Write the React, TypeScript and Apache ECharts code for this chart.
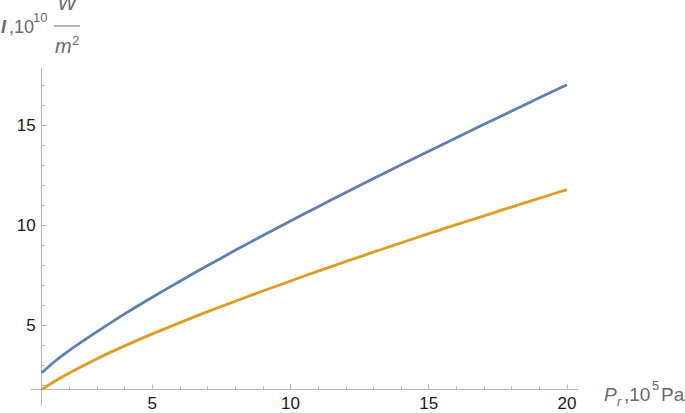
import React, { useEffect, useRef } from "react";
import * as echarts from "echarts";

const pressure = [1, 1.5, 2, 3, 4, 5, 6, 7, 8, 9, 10, 11, 12, 13, 14, 15, 16, 17, 18, 19, 20];
const intensityBlue = [2.64, 3.24, 3.76, 4.69, 5.58, 6.41, 7.21, 7.99, 8.75, 9.49, 10.21, 10.93, 11.63, 12.33, 13.02, 13.7, 14.37, 15.04, 15.7, 16.36, 17.01];
const intensityOrange = [1.8, 2.24, 2.63, 3.34, 3.98, 4.58, 5.14, 5.69, 6.21, 6.72, 7.22, 7.71, 8.19, 8.66, 9.12, 9.58, 10.03, 10.47, 10.91, 11.35, 11.78];
const xMajorTicks = [5, 10, 15, 20];
const xMinorTicks = [2, 3, 4, 6, 7, 8, 9, 11, 12, 13, 14, 16, 17, 18, 19];
const yMajorTicks = [5, 10, 15];
const yMinorTicks = [2, 3, 4, 6, 7, 8, 9, 11, 12, 13, 14, 16, 17];

const FONT = '"Liberation Sans", Arial, sans-serif';
const AXIS_COLOR = "#b5b5b5";
const TITLE_COLOR = "#6a6a6a";

export default function App() {
  const ref = useRef<HTMLDivElement>(null);
  useEffect(() => {
    if (!ref.current) return;
    const chart = echarts.init(ref.current, undefined, { renderer: "svg" });
    const xRange = { min: 0.61, max: 20.4 };
    const yRange = { min: 1.03, max: 17.85 };
    const lineStyle = { color: AXIS_COLOR, width: 1 };
    const labelStyle = { fontSize: 17, color: "#1a1a1a", fontFamily: FONT };
    const txt = (text: string, x: number, y: number, size: number, extra: any = {}) => ({
      type: "text",
      x,
      y,
      style: {
        text,
        fontSize: size,
        fontFamily: FONT,
        fill: TITLE_COLOR,
        verticalAlign: "middle",
        align: "left",
        ...extra,
      },
    });
    chart.setOption({
      animation: false,
      grid: { left: 31, right: 107, top: 68, bottom: 8, containLabel: false },
      xAxis: [
        {
          type: "value",
          ...xRange,
          position: "bottom",
          offset: -15.6,
          axisLine: { show: true, lineStyle },
          axisTick: { show: true, inside: true, length: 5, customValues: xMajorTicks, lineStyle },
          axisLabel: { show: true, customValues: xMajorTicks, margin: 6, ...labelStyle },
          splitLine: { show: false },
        },
        {
          type: "value",
          ...xRange,
          position: "bottom",
          offset: -15.6,
          axisLine: { show: false },
          axisTick: { show: true, inside: true, length: 3, customValues: xMinorTicks, lineStyle },
          axisLabel: { show: false },
          splitLine: { show: false },
        },
      ],
      yAxis: [
        {
          type: "value",
          ...yRange,
          position: "left",
          offset: -10.7,
          axisLine: { show: true, lineStyle },
          axisTick: { show: true, inside: true, length: 5, customValues: yMajorTicks, lineStyle },
          axisLabel: { show: true, customValues: yMajorTicks, margin: 6, ...labelStyle },
          splitLine: { show: false },
        },
        {
          type: "value",
          ...yRange,
          position: "left",
          offset: -10.7,
          axisLine: { show: false },
          axisTick: { show: true, inside: true, length: 3, customValues: yMinorTicks, lineStyle },
          axisLabel: { show: false },
          splitLine: { show: false },
        },
      ],
      series: [
        {
          type: "line",
          xAxisIndex: 0,
          yAxisIndex: 0,
          data: pressure.map((p, i) => [p, intensityBlue[i]]),
          showSymbol: false,
          smooth: 0.25,
          lineStyle: { color: "#5e81b5", width: 2.8 },
          itemStyle: { color: "#5e81b5" },
        },
        {
          type: "line",
          xAxisIndex: 0,
          yAxisIndex: 0,
          data: pressure.map((p, i) => [p, intensityOrange[i]]),
          showSymbol: false,
          smooth: 0.25,
          lineStyle: { color: "#e19c24", width: 2.8 },
          itemStyle: { color: "#e19c24" },
        },
      ],
      graphic: [
        txt("I", 1, 27, 18, { fontWeight: "bold", fontStyle: "italic" }),
        txt(",10", 9, 27, 18),
        txt("10", 33, 17, 13),
        txt("W", 67, 3, 20, { fontStyle: "italic", align: "center" }),
        { type: "line", shape: { x1: 54, y1: 26, x2: 80, y2: 26 }, style: { stroke: TITLE_COLOR, lineWidth: 1 } },
        txt("m", 55, 46, 20, { fontStyle: "italic" }),
        txt("2", 72, 40, 13),
        txt("P", 604, 394, 19, { fontStyle: "italic" }),
        txt("r", 617, 401.5, 13, { fontStyle: "italic" }),
        txt(",10", 624, 394, 19),
        txt("5", 652, 385.5, 13),
        txt("Pa", 661, 394, 19),
      ],
    });
    return () => chart.dispose();
  }, []);
  return <div ref={ref} style={{ position: "absolute", left: 0, top: 0, width: 685, height: 413 }} />;
}
